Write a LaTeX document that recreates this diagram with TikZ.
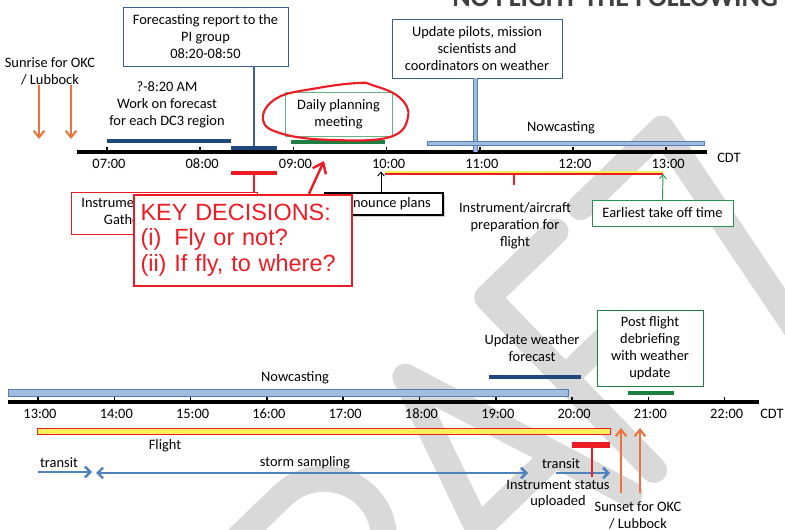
\documentclass[tikz,border=0pt]{standalone}
\usepackage{fontspec}
\setmainfont{Carlito}
\newfontfamily\keyfont{Liberation Sans}
\usetikzlibrary{arrows.meta,positioning,shadows}
\definecolor{barblue}{RGB}{31,73,125}
\definecolor{boxblue}{RGB}{60,95,140}
\definecolor{nowfill}{RGB}{160,188,222}
\definecolor{nowedge}{RGB}{85,125,175}
\definecolor{arrowblue}{RGB}{79,129,189}
\definecolor{meetgreen}{RGB}{30,125,65}
\definecolor{boxgreen}{RGB}{40,145,80}
\definecolor{keyred}{RGB}{237,28,36}
\definecolor{sunorange}{RGB}{238,112,58}
\definecolor{flightyellow}{RGB}{248,240,90}
\definecolor{wmgrey}{RGB}{217,217,217}

\tikzset{
  lbl/.style={align=center, inner sep=0pt},
  boxsize/.style 2 args={minimum width=#1*0.75pt, minimum height=#2*0.75pt},
  infobox/.style={draw=#1, line width=0.7pt, fill=white, align=center, inner sep=0pt},
  axisline/.style={line width=2.6pt, black},
  hourtick/.style={line width=1.1pt, black},
  darkbar/.style={line width=3pt, barblue},
  greenbar/.style={line width=3pt, meetgreen},
  redbar/.style={line width=3pt, keyred},
  nowbar/.style={draw=nowedge, fill=nowfill, line width=0.6pt},
  stemdouble/.style={draw=nowedge, line width=0.6pt, double=nowfill, double distance=2.4pt},
  orangearrow/.style={draw=sunorange, line width=1.5pt, -{Straight Barb[length=5pt,width=8pt]}},
  bluearrow/.style={draw=arrowblue, line width=1.8pt, -{Straight Barb[length=4pt,width=8pt]}},
  keyarrow/.style={draw=keyred, line width=1.8pt, -{Straight Barb[length=7pt,width=11pt]}},
  thinarrow/.style={line width=0.7pt, -{Straight Barb[length=3pt,width=5pt]}},
  keybox/.style={draw=keyred, line width=1.6pt, fill=white, text=keyred, align=left,
    text width=205*0.75pt, inner xsep=4.9pt, inner ysep=0pt, minimum height=91*0.75pt,
    font=\keyfont\fontsize{17.6}{19.9}\selectfont},
  wmstroke/.style={draw=wmgrey, line width=19.5pt, line cap=round, line join=round},
}

\begin{document}
\begin{tikzpicture}[x=0.75pt, y=-0.75pt, font=\fontsize{10.8}{12.6}\selectfont]
\useasboundingbox (0,0) rectangle (785,530);

% watermark, letters drawn along a slanted base line
\begin{scope}
  \clip (0,0) rectangle (785,530);
  \begin{scope}[shift={(654,470)}, x={(0.539pt,0.521pt)}, y={(-0.521pt,0.539pt)}]
    % D
    \draw[wmstroke] (-560,0) -- (-560,240) -- (-490,240) arc (90:-90:120) -- cycle;
    % R
    \draw[wmstroke] (-345,0) -- (-345,240) -- (-285,240) arc (90:-90:60) -- (-345,120);
    \draw[wmstroke] (-300,120) -- (-205,0);
    % A
    \draw[wmstroke] (-194,0) -- (-114,240) -- (-34,0);
    \draw[wmstroke] (-165,80) -- (-62,80);
    % F
    \draw[wmstroke] (0,0) -- (0,240) -- (95,240);
    \draw[wmstroke] (0,128) -- (80,128);
    % T
    \draw[wmstroke] (130,240) -- (243,240) -- (200,0);
  \end{scope}
\end{scope}

% title, cut at the top edge
\begin{scope}
  \clip (0,0) rectangle (785,530);
  \node[anchor=base west, inner sep=0pt, text=black!75, font=\fontsize{21}{21}\selectfont\bfseries] (title) at (452,7) {NO FLIGHT THE FOLLOWING DAY};
\end{scope}

%%% morning timeline
\draw[axisline] (77,152) coordinate (topL) -- (707,152) coordinate (topR);
\foreach \h [count=\i from 0] in {07,08,09,10,11,12,13} {
  \draw[hourtick] (107+93.2*\i,152) -- ++(0,-5);
  \node[lbl] (top\h) at (109+93.2*\i,164) {\h:00};
}
\node[lbl] (topcdt) at (729,158) {CDT};

% sunrise
\node[lbl] (sunrise) at (50,71) {Sunrise for OKC\\/ Lubbock};
\coordinate (srA) at (39,85);
\coordinate (srB) at (71,85);
\draw[orangearrow] (srA) -- ++(0,54);
\draw[orangearrow] (srB) -- ++(0,54);

% forecast work
\node[lbl] (work) at (167,105) {?-8:20 AM\\Work on forecast\\for each DC3 region};
\draw[darkbar] (107,141) -- (231,141);

% report to PI group
\node[infobox=boxblue, boxsize={165}{59}] (fcbox) at (205.5,36.5) {Forecasting report to the\\PI group\\08:20-08:50};
\draw[line width=3.5pt, barblue] (231,148) -- (277,148);
\coordinate (fcbar) at (254,146);
\draw[boxblue, line width=0.9pt] (fcbox.south -| fcbar) -- (fcbar);

% planning meeting
\node[infobox=boxgreen!70, boxsize={107}{44}] (meet) at (338.5,114) {Daily planning\\meeting};
\draw[greenbar] (291,142) -- (385,142);
\draw[keyred, line width=1.6pt] plot[smooth cycle, tension=0.7] coordinates {(358,83) (318,88) (277,98) (263,120) (283,134) (333,140) (390,137) (408,117) (399,97) (372,85)};

% update pilots
\node[infobox=boxblue, boxsize={170}{59}] (pilots) at (477,48.5) {Update pilots, mission\\scientists and\\coordinators on weather};
\draw[stemdouble] ([xshift=-1.2pt]pilots.south) -- ([xshift=-1.2pt]pilots.south |- topL);

% nowcasting
\node[lbl] (nowtop) at (561,128) {Nowcasting};
\draw[nowbar] (427,141) rectangle (704,145);

% preparation
\draw[keyred, line width=0.8pt] (385,174) coordinate (prepL) -- (663,174) coordinate (prepR);
\draw[flightyellow, line width=1.4pt] (385,172.4) -- (663,172.4);
\draw[keyred, line width=0.8pt] (514,174) -- (514,185);
\node[lbl] (prep) at (515,226) {Instrument/aircraft\\preparation for\\flight};

% earliest take off
\node[infobox=boxgreen, boxsize={141}{26}] (early) at (662.5,213) {Earliest take off time};
\draw[thinarrow, boxgreen] (early.north) -- (prepR);

% instrument gathering
\draw[redbar] (231,173) -- (277,173);
\coordinate (instbar) at (254,173);
\node[infobox=keyred, boxsize={186}{42}] (instbox) at (164,213) {};
\node[lbl] (insttext) at (133,213) {Instrument status\\Gathering};
\draw[keyred, line width=0.8pt] (instbar) -- (instbar |- instbox.north);

% announce plans
\node[infobox=black, line width=0.8pt, boxsize={118}{22}, drop shadow={shadow xshift=1.6pt, shadow yshift=-1.6pt, fill=black!35}] (announce) at (384,204) {Announce plans};
\draw[thinarrow] ([xshift=-2.25pt]announce.north) -- ++(0,-21);

% key decisions
\node[keybox] (keydec) at (243,240.5) {%
  \begin{tabular}{@{}l@{\ }l@{}}
  \multicolumn{2}{@{}l@{}}{KEY DECISIONS:}\\[-1pt]
  (i) & Fly or not?\\[-1pt]
  (ii) & If fly, to where?
  \end{tabular}};
\coordinate (keytip) at (324,161);
\draw[keyarrow] ([xshift=132pt]keydec.north west) -- (keytip);

%%% afternoon timeline
\draw[axisline] (8,402) coordinate (botL) -- (759,402) coordinate (botR);
\foreach \h [count=\i from 0] in {13,...,22} {
  \draw[hourtick] (38+76.3*\i,402) -- ++(0,-5);
  \node[lbl] (bot\h) at (40+76.3*\i,414) {\h:00};
}
\node[lbl] (botcdt) at (772,414) {CDT};

% nowcasting
\node[lbl] (nowbot) at (295,378) {Nowcasting};
\draw[nowbar] (8,389) rectangle (568,396);

% weather update
\node[lbl] (wxupd) at (532,348) {Update weather\\forecast};
\draw[darkbar] (489,377) -- (581,377);

% debriefing
\node[infobox=meetgreen, boxsize={106}{76}] (debrief) at (650,348) {Post flight\\debriefing\\with weather\\update};
\draw[greenbar] (628,393) -- (674,393);

% flight
\draw[draw=keyred, fill=flightyellow, line width=0.7pt] (37,428) rectangle (610,434);
\node[lbl] (flight) at (165,446) {Flight};

\node[lbl] (transA) at (59,463) {transit};
\draw[bluearrow] (38,472) coordinate (trA) -- (92,472);
\node[lbl] (storm) at (305,463) {storm sampling};
\draw[bluearrow, {Straight Barb[length=4pt,width=8pt]}-{Straight Barb[length=4pt,width=8pt]}] (96,473) -- (528,473);
\node[lbl] (transB) at (561,464) {transit};
\draw[bluearrow] (556,473) coordinate (trB) -- (610,473);

% instrument status
\draw[line width=4pt, keyred] (572,445) -- (610,445);
\coordinate (uplbar) at (592,445);
\node[lbl] (upload) at (558,494) {Instrument status\\uploaded};
\draw[keyred, line width=0.8pt] (uplbar) -- ++(0,32);

% sunset
\node[lbl] (sunset) at (638,515) {Sunset for OKC\\/ Lubbock};
\coordinate (ssA) at (621,493);
\coordinate (ssB) at (640,493);
\draw[orangearrow] (ssA) -- ++(0,-65);
\draw[orangearrow] (ssB) -- ++(0,-65);

\end{tikzpicture}
\end{document}
